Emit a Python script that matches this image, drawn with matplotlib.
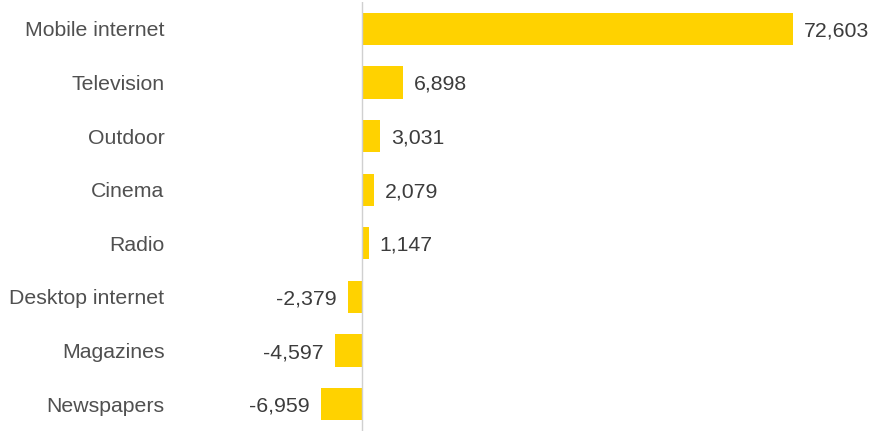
import numpy as np
import matplotlib.pyplot as plt

categories = ["Mobile internet", "Television", "Outdoor", "Cinema", "Radio",
              "Desktop internet", "Magazines", "Newspapers"]
values = [72603, 6898, 3031, 2079, 1147, -2379, -4597, -6959]

plt.rcParams['font.family'] = ['Liberation Sans', 'DejaVu Sans']

W, H = 882, 438
fig = plt.figure(figsize=(W / 100, H / 100), dpi=100)
ax_left, ax_right = 175, 882
ax_top, ax_bot = 2, 431
ax = fig.add_axes([ax_left / W, 1 - ax_bot / H, (ax_right - ax_left) / W, (ax_bot - ax_top) / H])

scale = 431 / 72603  # px per unit
zero_px = 362
ax.set_xlim(-(zero_px - ax_left) / scale, (ax_right - zero_px) / scale)

y = np.arange(len(categories))
bar_color = "#FFD200"
label_color = "#505050"
value_color = "#3C3C3C"
fs = 15.3
ax.barh(y, values, height=0.6, color=bar_color, zorder=2)
ax.set_ylim(len(categories) - 0.5, -0.5)
ax.axvline(0, color="#D0D0D0", linewidth=1.0, zorder=3)

ax.set_yticks(y)
ax.set_yticklabels(categories, fontsize=fs, color=label_color)
ax.tick_params(axis='y', length=0, pad=7.5)
ax.set_xticks([])
for s in ax.spines.values():
    s.set_visible(False)

off = 11 / scale
for yi, v in zip(y, values):
    if v >= 0:
        ax.text(v + off, yi, f"{v:,}", va="center_baseline", ha="left", fontsize=fs, color=value_color)
    else:
        ax.text(v - off, yi, f"{v:,}", va="center_baseline", ha="right", fontsize=fs, color=value_color)

fig.savefig("out.png", dpi=100)
